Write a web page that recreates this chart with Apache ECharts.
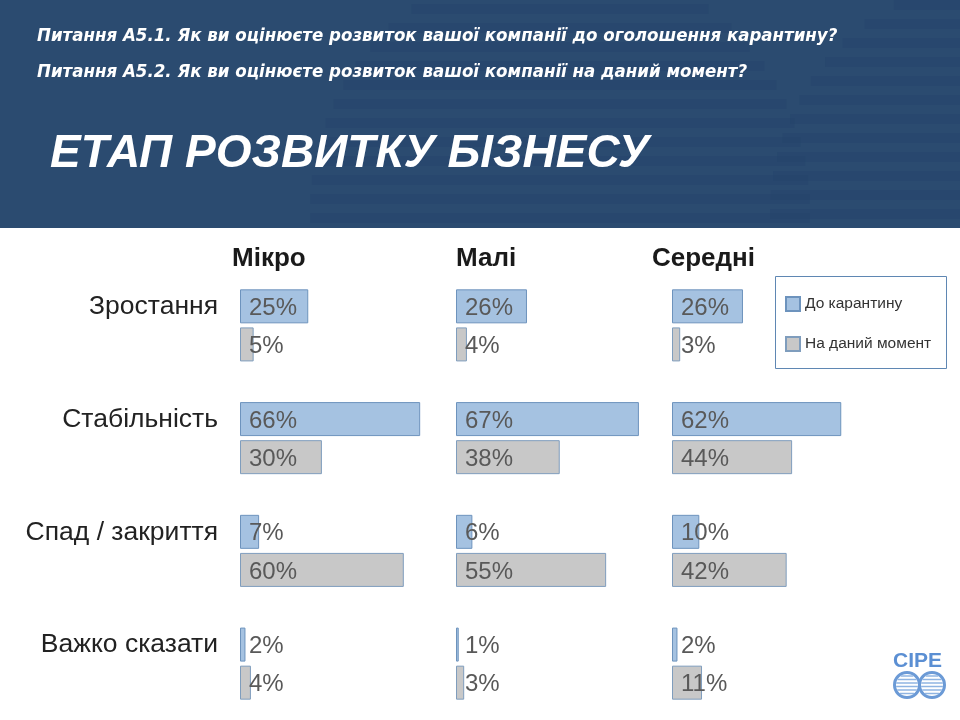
<!DOCTYPE html>
<html><head><meta charset="utf-8">
<script src="https://cdn.jsdelivr.net/npm/echarts@6/dist/echarts.min.js"></script>
<style>html,body{margin:0;padding:0;background:#fff}#c{width:960px;height:720px}</style>
</head><body><div id="c"></div>
<script>
const categories = ['Зростання', 'Стабільність', 'Спад / закриття', 'Важко сказати'];
const groups = ['Мікро', 'Малі', 'Середні'];
const seriesNames = ['До карантину', 'На даний момент'];
const beforeMicro = [25, 66, 7, 2];
const nowMicro = [5, 30, 60, 4];
const beforeSmall = [26, 67, 6, 1];
const nowSmall = [4, 38, 55, 3];
const beforeMedium = [26, 62, 10, 2];
const nowMedium = [3, 44, 42, 11];
const beforeData = [beforeMicro, beforeSmall, beforeMedium];
const nowData = [nowMicro, nowSmall, nowMedium];

const question1 = 'Питання А5.1. Як ви оцінюєте розвиток вашої компанії до оголошення карантину?';
const question2 = 'Питання А5.2. Як ви оцінюєте розвиток вашої компанії на даний момент?';
const mainTitle = 'ЕТАП РОЗВИТКУ БІЗНЕСУ';

const gridLefts = [240, 456, 672];
const headerX = [232, 456, 652];

const chart = echarts.init(document.getElementById('c'), null, {renderer: 'canvas'});

const grids = [], xAxes = [], yAxes = [], series = [];
const labelStyle = {
  show: true, position: [9, '50%'], align: 'left', verticalAlign: 'middle', offset: [0, 2],
  formatter: '{c}%', fontSize: 24, color: '#595959', fontFamily: 'Liberation Sans, Arial, sans-serif'
};
groups.forEach((g, i) => {
  grids.push({left: gridLefts[i], top: 269, width: 273, height: 456, containLabel: false});
  xAxes.push({type: 'value', gridIndex: i, min: 0, max: 100, show: false});
  yAxes.push({
    type: 'category', gridIndex: i, data: categories, inverse: true,
    axisLine: {show: false}, axisTick: {show: false}, splitLine: {show: false},
    axisLabel: {show: i === 0, margin: 22, verticalAlign: 'middle',
      formatter: v => '{a|' + v + '}',
      rich: {a: {fontSize: 26.5, color: '#222', padding: [0, 0, 37, 0],
        fontFamily: 'Liberation Sans, Arial, sans-serif'}}}
  });
  series.push({
    name: seriesNames[0], type: 'bar', xAxisIndex: i, yAxisIndex: i,
    data: beforeData[i], barWidth: 34, barGap: '12%',
    itemStyle: {color: '#a5c2e1', borderColor: '#6d93bd', borderWidth: 1},
    label: labelStyle, silent: true
  });
  series.push({
    name: seriesNames[1], type: 'bar', xAxisIndex: i, yAxisIndex: i,
    data: nowData[i], barWidth: 34, barGap: '12%',
    itemStyle: {color: '#c8c8c8', borderColor: '#7f9dbd', borderWidth: 1},
    label: labelStyle, silent: true
  });
});

// decorative header globes (faint)
const deco = [];
function globe(cx, cy, r) {
  for (let y = cy - r + 6; y < cy + r; y += 19) {
    if (y + 10 > 226 || y < 0) continue;
    const dy = Math.abs(y + 5 - cy);
    if (dy >= r) continue;
    const hw = Math.sqrt(r * r - dy * dy);
    deco.push({type: 'rect', shape: {x: cx - hw, y: y, width: 2 * hw, height: 10},
      style: {fill: '#22416a', opacity: 0.35}, silent: true, z: -9});
  }
}
globe(560, 210, 250);
globe(1010, 215, 240);

const graphic = [
  {type: 'rect', shape: {x: 0, y: 0, width: 960, height: 228}, style: {fill: '#2b4b70'}, silent: true, z: -10},
  ...deco,
  {type: 'text', left: 37, top: 27, style: {text: question1, fill: '#fff',
    font: 'italic bold 18.5px "Liberation Sans Narrow", "DejaVu Sans Condensed", sans-serif'}},
  {type: 'text', left: 37, top: 63, style: {text: question2, fill: '#fff',
    font: 'italic bold 18.5px "Liberation Sans Narrow", "DejaVu Sans Condensed", sans-serif'}},
  {type: 'text', left: 50, top: 131, style: {text: mainTitle, fill: '#fff',
    font: 'italic bold 46px "Liberation Sans", Arial, sans-serif'}},
  {type: 'rect', shape: {x: 775.5, y: 276.5, width: 171, height: 92},
    style: {fill: '#fff', stroke: '#5f87b3', lineWidth: 1}, z: 1},
  // CIPE logo
  {type: 'text', left: 893, top: 651, style: {text: 'CIPE', fill: '#5b8fd3',
    font: 'bold 21px "Liberation Sans", Arial, sans-serif'}},
  {type: 'circle', shape: {cx: 907, cy: 685, r: 12.5}, style: {fill: 'none', stroke: '#6b9ad6', lineWidth: 3}},
  {type: 'circle', shape: {cx: 932, cy: 685, r: 12.5}, style: {fill: 'none', stroke: '#6b9ad6', lineWidth: 3}},
];
groups.forEach((g, i) => {
  graphic.push({type: 'text', left: headerX[i], top: 246, style: {text: g, fill: '#1a1a1a',
    font: 'bold 26px "Liberation Sans", Arial, sans-serif'}});
});
for (let k = 0; k < 6; k++) {
  const y = 676 + k * 3.5;
  [907, 932].forEach(cx => {
    const dy = Math.abs(y - 685);
    const hw = Math.sqrt(Math.max(0, 11 * 11 - dy * dy));
    graphic.push({type: 'line', shape: {x1: cx - hw, y1: y, x2: cx + hw, y2: y},
      style: {stroke: '#8fb4e2', lineWidth: 1.5}});
  });
}

chart.setOption({
  animation: false,
  backgroundColor: '#fff',
  grid: grids, xAxis: xAxes, yAxis: yAxes, series: series,
  legend: {
    data: seriesNames.map(n => ({name: n, icon: 'rect'})), orient: 'vertical', left: 785, top: 296, padding: 0,
    itemWidth: 14, itemHeight: 14, itemGap: 24, z: 5,
    textStyle: {fontSize: 15.5, lineHeight: 14, color: '#333', fontFamily: 'Liberation Sans, Arial, sans-serif'}
  },
  graphic: graphic
});
</script></body></html>
